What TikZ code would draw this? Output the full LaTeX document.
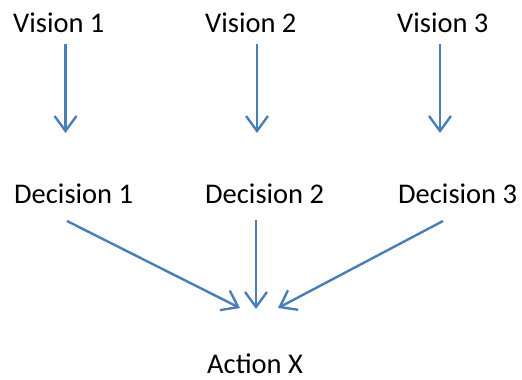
\documentclass[tikz,border=0pt]{standalone}
\usepackage{fontspec}
\setmainfont{Carlito}
\usetikzlibrary{arrows.meta}
\definecolor{linkblue}{HTML}{4A7EBB}
\begin{document}
\begin{tikzpicture}[x=1pt,y=-1pt,
  label/.style={anchor=base west,inner sep=0pt,font=\fontsize{28.5}{34}\selectfont},
  arr/.style={draw=linkblue,line width=2.4pt,
    -{Straight Barb[length=15pt,width=22pt,line width=2.4pt]}}]
\useasboundingbox (0,0) rectangle (522,380);
% text labels
\node[label] (v1) at (13,32) {Vision 1};
\node[label] (v2) at (205,32) {Vision 2};
\node[label] (v3) at (397,32) {Vision 3};
\node[label] (d1) at (14,203) {Decision 1};
\node[label] (d2) at (205,203) {Decision 2};
\node[label] (d3) at (398,203) {Decision 3};
\node[label] (ax) at (207,373) {Action X};
% connector ends
\coordinate (v1s) at (65.5,44);  \coordinate (d1n) at (65.5,133);
\coordinate (v2s) at (257,44);   \coordinate (d2n) at (257,133);
\coordinate (v3s) at (440,44);   \coordinate (d3n) at (440,133);
\coordinate (d1s) at (67,221);   \coordinate (axl) at (240,308);
\coordinate (d2s) at (256,220);  \coordinate (axm) at (256,309);
\coordinate (d3s) at (443,221);  \coordinate (axr) at (278,308);
% vision -> decision
\draw[arr] (v1s) -- (d1n);
\draw[arr] (v2s) -- (d2n);
\draw[arr] (v3s) -- (d3n);
% decision -> action
\draw[arr] (d1s) -- (axl);
\draw[arr] (d2s) -- (axm);
\draw[arr] (d3s) -- (axr);
\end{tikzpicture}
\end{document}
